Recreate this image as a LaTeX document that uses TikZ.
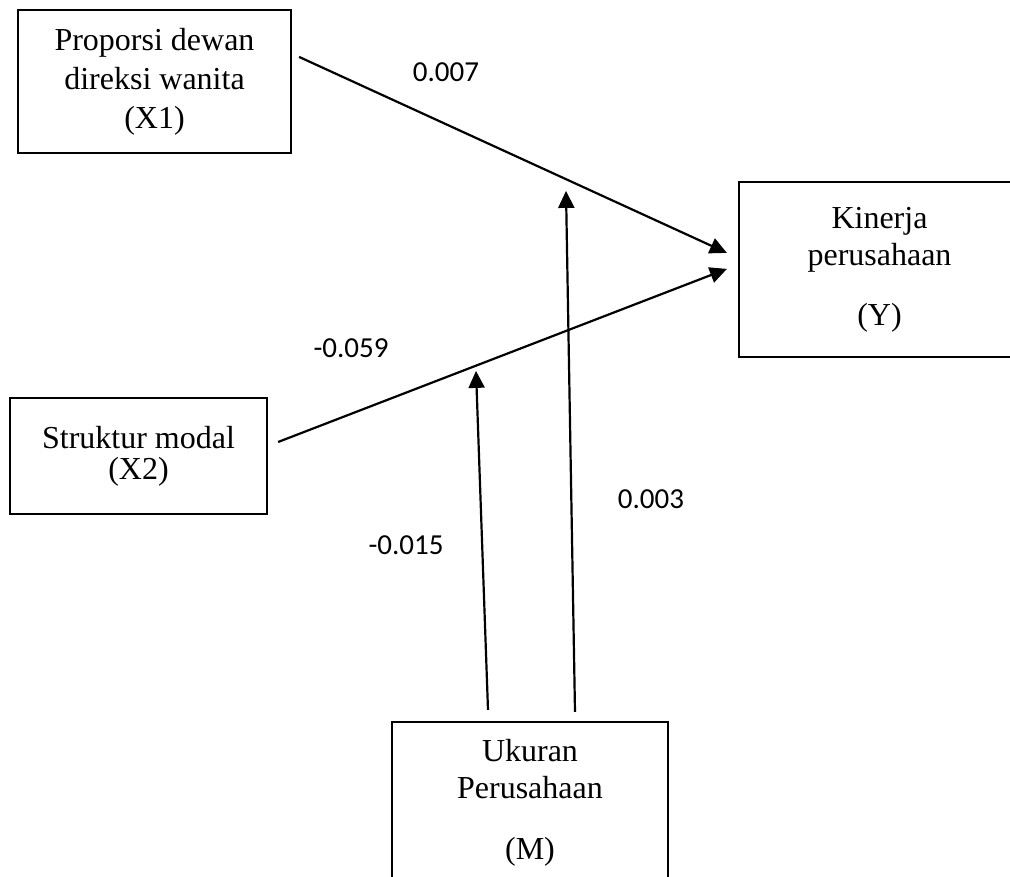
\documentclass[tikz,border=0pt]{standalone}
\usepackage{fontspec}
\setmainfont{Liberation Serif}
\newfontfamily\labelfont{Carlito}
\usetikzlibrary{arrows.meta,calc}
\tikzset{
  box/.style={draw, line width=2.2pt, inner sep=0pt, align=center,
    font=\fontsize{32}{38}\selectfont},
  conn/.style={line width=2.2pt, -{Triangle[length=17pt,width=16pt]}},
  coef/.style={font=\labelfont\fontsize{29}{32}\selectfont, inner sep=0pt}
}
\begin{document}
\begin{tikzpicture}[x=1pt,y=-1pt]
\useasboundingbox (0,0) rectangle (1010,877);
\clip (0,0) rectangle (1010,877);
\node[box, minimum width=273pt, minimum height=143pt] (X1) at (154.5,81.5)
  {Proporsi dewan\\[1pt]direksi wanita\\[1pt](X1)};
\node[box, minimum width=281pt, minimum height=175pt] (Y) at (879.5,269.5)
  {Kinerja\\[-1pt]perusahaan\\[22pt](Y)};
\node[box, minimum width=257pt, minimum height=116pt] (X2) at (138.5,456)
  {Struktur modal\\[-7pt](X2)};
\node[box, minimum width=276pt, minimum height=162pt] (M) at (530,803)
  {Ukuran\\[-1pt]Perusahaan\\[23pt](M)};
\coordinate (t1) at ([shift={(-54,-350)}]M.north);
\coordinate (t2) at ([shift={(36,-530)}]M.north);
\draw[conn] ([shift={(7,48)}]X1.north east) -- ([shift={(-11,72)}]Y.north west);
\draw[conn] ([shift={(10,-14)}]X2.east) -- ([shift={(-11,88)}]Y.north west);
\draw[conn] ([shift={(-42,-11)}]M.north) -- (t1);
\draw[conn] ([shift={(45,-9)}]M.north) -- (t2);
\node[coef] (c1) at (446,72) {0.007};
\node[coef] (c2) at (351,348) {-0.059};
\node[coef] (c3) at (406,545) {-0.015};
\node[coef] (c4) at (651,499) {0.003};
\end{tikzpicture}
\end{document}
